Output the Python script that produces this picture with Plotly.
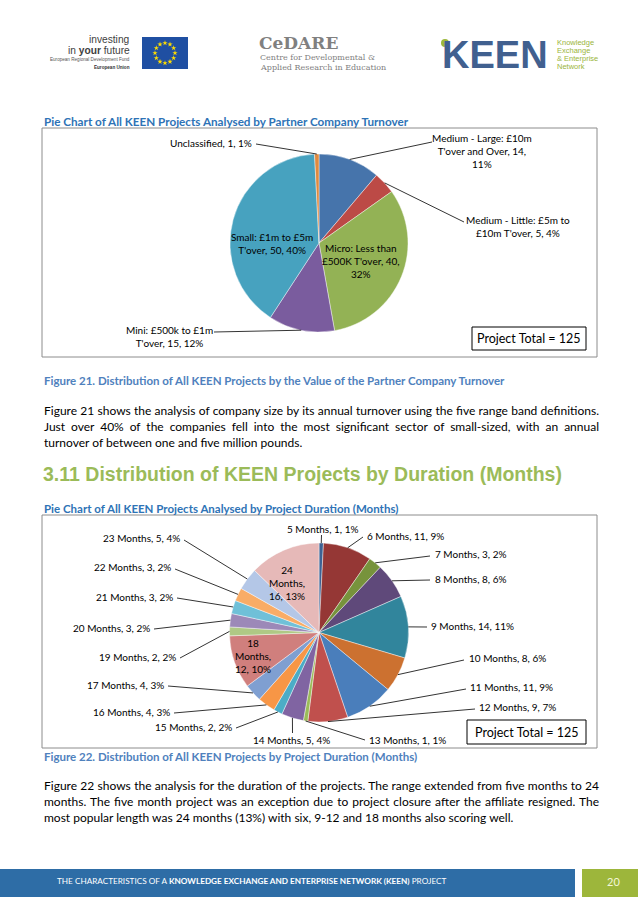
import math
import json
import textwrap
import plotly.graph_objects as go

W, H = 638, 903

# ---------------- data ----------------
turnover_cats = ["Medium - Large: £10m T'over and Over", "Medium - Little: £5m to £10m T'over",
                 "Micro: Less than £500K T'over", "Mini: £500k to £1m T'over",
                 "Small: £1m to £5m T'over", "Unclassified"]
turnover_counts = [14, 5, 40, 15, 50, 1]

duration_cats = ["5 Months", "6 Months", "7 Months", "8 Months", "9 Months", "10 Months",
                 "11 Months", "12 Months", "13 Months", "14 Months", "15 Months", "16 Months",
                 "17 Months", "18 Months", "19 Months", "20 Months", "21 Months", "22 Months",
                 "23 Months", "24 Months"]
duration_counts = [1, 11, 3, 8, 14, 8, 11, 9, 1, 5, 2, 4, 4, 12, 2, 3, 3, 3, 5, 16]

# ---------------- styles / layout ----------------
FONT = "Lato, Carlito, Calibri, sans-serif"
turnover_colors = ["#4674AB", "#BC4A46", "#93B255", "#7A5C9E", "#47A2BF", "#E08A3F"]
duration_colors = ["#3D6293", "#953735", "#77933C", "#5F497A", "#31859C", "#CC7130",
                   "#4A7EBB", "#C0504D", "#9BBB59", "#8064A2", "#4BACC6", "#F79646",
                   "#7F9FD1", "#D07F7D", "#AFC985", "#9C89B8", "#6FC0D8", "#F9AC66",
                   "#B4C7E7", "#E6B9B8"]

P1 = dict(cx=319, cy=243, r=89)
P2 = dict(cx=319, cy=632.5, r=89.5)

# label layout: (x, y, xanchor, wrap width, leader start or None)
L1 = [(482, 151, "center", 20, (432, 142)),
      (518, 226, "center", 23, (464, 222)),
      (361, 261, "center", 17, None),
      (169, 336.5, "center", 18, (214, 332)),
      (272, 243, "center", 17, None),
      (254, 143, "right", 40, (256, 144))]
L2 = [(322, 529, "center", 40, (321.5, 535)),
      (365, 536, "left", 40, (363, 537)),
      (433, 554, "left", 40, (430, 556)),
      (433, 579, "left", 40, (430, 580)),
      (429, 626, "left", 40, (427, 627)),
      (467, 658, "left", 40, (464, 660)),
      (468, 687, "left", 40, (466, 689)),
      (477, 707, "left", 40, (475, 709)),
      (367, 740, "left", 40, (365, 740)),
      (291, 740, "center", 40, (292.5, 733)),
      (234, 727, "right", 40, (236, 728)),
      (172, 712, "right", 40, (174, 713)),
      (166, 685, "right", 40, (168, 686)),
      (253, 656, "center", 7, None),
      (178, 657, "right", 40, (180, 658)),
      (152, 628, "right", 40, (154, 629)),
      (175, 597, "right", 40, (177, 598)),
      (173, 567, "right", 40, (175, 569)),
      (182, 538, "right", 40, (184, 540)),
      (287, 583, "center", 7, None)]

TEXT_LEFT, TEXT_WIDTH = 42, 555

annotations = []
shapes = []


def txt(x, y, s, size, color="#000000", anchor="left", family=FONT):
    annotations.append(dict(x=x, y=y, xref="x", yref="y", text=s, showarrow=False,
                            xanchor=anchor, yanchor="middle", align=anchor,
                            font=dict(size=size, color=color, family=family)))


def rect(x0, y0, x1, y1, fill=None, line=None, lw=1):
    shapes.append(dict(type="rect", xref="x", yref="y", x0=x0, y0=y0, x1=x1, y1=y1,
                       fillcolor=fill if fill else "rgba(0,0,0,0)",
                       line=dict(color=line if line else "rgba(0,0,0,0)", width=lw if line else 0),
                       layer="below" if fill else "above"))


def line(x0, y0, x1, y1, color="#000000", w=0.8):
    shapes.append(dict(type="line", xref="x", yref="y", x0=x0, y0=y0, x1=x1, y1=y1,
                       line=dict(color=color, width=w)))


def pie_trace(cats, counts, colors, P):
    return go.Pie(labels=cats, values=counts, sort=False, direction="clockwise", rotation=0,
                  marker=dict(colors=colors, line=dict(color="rgba(255,255,255,0.7)", width=0.6)),
                  textinfo="none", hoverinfo="label+value+percent", showlegend=False,
                  domain=dict(x=[(P["cx"] - P["r"]) / W, (P["cx"] + P["r"]) / W],
                              y=[1 - (P["cy"] + P["r"]) / H, 1 - (P["cy"] - P["r"]) / H]))


def pie_labels(cats, counts, P, L, size):
    total = sum(counts)
    cum = 0
    for cat, n, (x, y, anc, wrapw, lead) in zip(cats, counts, L):
        mid = (cum + n / 2) / total * 2 * math.pi
        cum += n
        pct = round(n / total * 100)
        s = "<br>".join(textwrap.wrap(f"{cat}, {n}, {pct}%", wrapw))
        txt(x, y, s, size, anchor=anc)
        if lead is not None:
            ax = P["cx"] + P["r"] * math.sin(mid)
            ay = P["cy"] - P["r"] * math.cos(mid)
            line(lead[0], lead[1], ax, ay)


fig = go.Figure()
fig.add_trace(pie_trace(turnover_cats, turnover_counts, turnover_colors, P1))
fig.add_trace(pie_trace(duration_cats, duration_counts, duration_colors, P2))

# ---- header logos ----
txt(132, 39, "investing", 10.2, "#404040", "right", "Liberation Sans")
txt(132, 50, "in <b>your</b> future", 10.2, "#404040", "right", "Liberation Sans")
txt(132, 59.5, "European Regional Development Fund", 4.6, "#555555", "right", "Liberation Sans")
txt(132, 67, "<b>European Union</b>", 4.6, "#333333", "right", "Liberation Sans")
rect(142, 37, 188, 69, fill="#1F4FA2")
star_n = list(range(12))
fig.add_trace(go.Scatter(x=[165 + 10 * math.cos(k * math.pi / 6) for k in star_n],
                         y=[53 + 10 * math.sin(k * math.pi / 6) for k in star_n],
                         mode="markers", marker=dict(symbol="star", size=4, color="#FFDD00"),
                         xaxis="x", yaxis="y", showlegend=False, hoverinfo="skip"))

txt(257, 43, "<b>CeDARE</b>", 17, "#808080", "left", "DejaVu Serif")
txt(258, 57, "Centre for Developmental &", 8.0, "#808080", "left", "DejaVu Serif")
txt(258, 67, "Applied Research in Education", 8.0, "#808080", "left", "DejaVu Serif")

txt(440, 55, "<b>KEEN</b>", 38, "#41608F", "left", "Liberation Sans")
shapes.append(dict(type="circle", xref="x", yref="y", x0=441, y0=39, x1=449, y1=47,
                   fillcolor="#9DB83B", line=dict(width=0)))
for i, s in enumerate(["Knowledge", "Exchange", "& Enterprise", "Network"]):
    txt(555, 42 + 8.3 * i, s, 7.5, "#9AB53C", "left", "Liberation Sans")

# ---- chart 1 ----
TITLE_BLUE = "#2E73B6"
CAP_BLUE = "#4F81BD"
txt(42, 121, "<b>Pie Chart of All KEEN Projects Analysed by Partner Company Turnover</b>", 11.7, TITLE_BLUE)
rect(42, 128, 597, 357, line="#8C8C8C", lw=1)
pie_labels(turnover_cats, turnover_counts, P1, L1, 10)
rect(472, 327, 586, 350, line="#000000", lw=1)
txt(529, 338.5, "Project Total = 125", 12.5, anchor="center")

txt(42, 380, "<b>Figure 21. Distribution of All KEEN Projects by the Value of the Partner Company Turnover</b>", 11.5, CAP_BLUE)
body1 = ["Figure 21 shows the analysis of company size by its annual turnover using the five range band definitions.",
         "Just over 40% of the companies fell into the most significant sector of small-sized, with an annual",
         "turnover of between one and five million pounds."]
for i, s in enumerate(body1):
    txt(TEXT_LEFT, 410 + 16 * i, s, 12)

txt(41, 474, "<b>3.11 Distribution of KEEN Projects by Duration (Months)</b>", 19.5, "#9BBB59", "left", "Liberation Sans")

# ---- chart 2 ----
txt(42, 508, "<b>Pie Chart of All KEEN Projects Analysed by Project Duration (Months)</b>", 11.5, TITLE_BLUE)
rect(42, 515, 597, 748, line="#8C8C8C", lw=1)
pie_labels(duration_cats, duration_counts, P2, L2, 10)
rect(467, 720, 586, 744, line="#000000", lw=1)
txt(526.5, 732, "Project Total = 125", 12.5, anchor="center")

txt(42, 756, "<b>Figure 22. Distribution of All KEEN Projects by Project Duration (Months)</b>", 11.5, CAP_BLUE)
body2 = ["Figure 22 shows the analysis for the duration of the projects. The range extended from five months to 24",
         "months. The five month project was an exception due to project closure after the affiliate resigned. The",
         "most popular length was 24 months (13%) with six, 9-12 and 18 months also scoring well."]
for i, s in enumerate(body2):
    txt(TEXT_LEFT, 785 + 16 * i, s, 12)

# ---- footer ----
rect(0, 869, 575, 897, fill="#2E6DA6")
rect(582, 869, 638, 897, fill="#9DB63B")
txt(55, 881, "THE CHARACTERISTICS OF A <b>KNOWLEDGE EXCHANGE AND ENTERPRISE NETWORK (KEEN)</b> PROJECT",
    8.2, "#FFFFFF")
txt(613, 881.5, "20", 11, "#F4F6D8", "center")

fig.update_layout(
    width=W, height=H, margin=dict(l=0, r=0, t=0, b=0),
    paper_bgcolor="white", plot_bgcolor="rgba(0,0,0,0)",
    xaxis=dict(range=[0, W], visible=False, fixedrange=True, domain=[0, 1]),
    yaxis=dict(range=[H, 0], visible=False, fixedrange=True, domain=[0, 1]),
    annotations=annotations, shapes=shapes, showlegend=False,
)

# remove page margin and justify the full body lines (as in the document)
justify = body1[:-1] + body2[:-1]
post = """
document.body.style.margin = '0';
document.body.style.overflow = 'hidden';
var J = %s;
document.querySelectorAll('.annotation-text').forEach(function (el) {
  var t = el.textContent.replace(/\\s+/g, ' ').trim();
  if (J.indexOf(t) >= 0) {
    var n = (t.match(/ /g) || []).length;
    var L = el.getComputedTextLength();
    var extra = (%f - L) / n;
    if (extra > 0) { el.style.wordSpacing = extra + 'px'; el.setAttribute('word-spacing', extra); }
  }
});
""" % (json.dumps(justify), TEXT_WIDTH)

fig.write_html("out.html", post_script=post, config={"displayModeBar": False})
